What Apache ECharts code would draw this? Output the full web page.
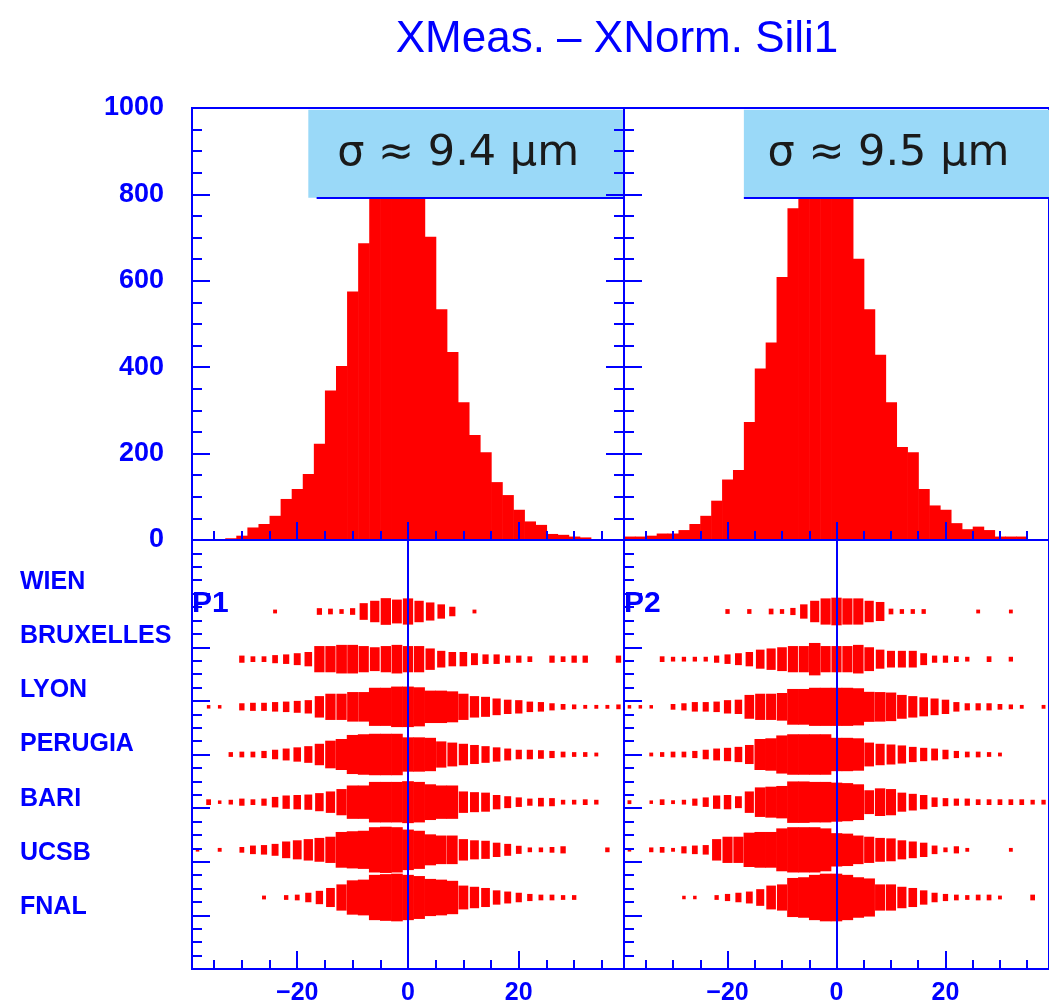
<!DOCTYPE html>
<html>
<head>
<meta charset="utf-8">
<title>XMeas. - XNorm. Sili1</title>
<script src="https://cdn.jsdelivr.net/npm/echarts@6.0.0/dist/echarts.min.js"></script>
<style>
html, body { margin: 0; padding: 0; background: #fff; }
#main { width: 1049px; height: 1006px; }
</style>
</head>
<body>
<div id="main"></div>
<script>
// bin centres (2 um bins from -39 to 39)
var binCenters = [-38, -36, -34, -32, -30, -28, -26, -24, -22, -20, -18, -16, -14, -12, -10, -8, -6, -4, -2, 0,
    2, 4, 6, 8, 10, 12, 14, 16, 18, 20, 22, 24, 26, 28, 30, 32, 34, 36, 38];

// top histograms (entries per bin)
var histP1 = [0, 0, 0, 4, 10, 29, 37, 56, 95, 118, 153, 223, 346, 403, 575, 687, 810, 870, 890, 860,
    805, 702, 534, 435, 319, 243, 203, 134, 104, 70, 43, 35, 14, 12, 8, 6, 0, 0, 0];
var histP2 = [8, 8, 10, 15, 15, 23, 37, 56, 91, 140, 162, 273, 397, 457, 609, 768, 840, 900, 910, 870,
    810, 651, 534, 429, 319, 215, 203, 118, 80, 70, 39, 25, 31, 23, 8, 8, 8, 0, 0];
var sigmaLabels = ['σ ≈ 9.4 μm', 'σ ≈ 9.5 μm'];

// institutes, bottom to top
var institutes = ['FNAL', 'UCSB', 'BARI', 'PERUGIA', 'LYON', 'BRUXELLES', 'WIEN'];

// relative box size per bin, one array per institute (P1)
var p1Wien = [0, 0, 0, 0, 0, 0, 0, 0.08, 0, 0, 0, 0.14, 0.12, 0.1, 0.14, 0.35, 0.45, 0.56, 0.5, 0.55,
    0.45, 0.38, 0.3, 0.2, 0, 0.08, 0, 0, 0, 0, 0, 0, 0, 0, 0, 0, 0, 0, 0];
var p1Bruxelles = [0, 0, 0, 0, 0.15, 0.12, 0.12, 0.17, 0.2, 0.25, 0.3, 0.55, 0.55, 0.6, 0.6, 0.55, 0.5, 0.55, 0.6, 0.55,
    0.55, 0.45, 0.35, 0.3, 0.3, 0.25, 0.2, 0.2, 0.15, 0.15, 0.12, 0, 0.15, 0.12, 0.15, 0.15, 0, 0, 0.15];
var p1Lyon = [0, 0.06, 0.05, 0, 0.15, 0.17, 0.17, 0.2, 0.22, 0.25, 0.28, 0.45, 0.55, 0.55, 0.62, 0.62, 0.8, 0.8, 0.85, 0.85,
    0.82, 0.68, 0.68, 0.65, 0.55, 0.45, 0.42, 0.35, 0.3, 0.28, 0.22, 0.2, 0.15, 0.12, 0.1, 0.08, 0.08, 0.08, 0.1];
var p1Perugia = [0, 0, 0, 0.1, 0.12, 0.12, 0.15, 0.2, 0.25, 0.3, 0.35, 0.45, 0.58, 0.65, 0.82, 0.85, 0.87, 0.87, 0.87, 0.72,
    0.72, 0.7, 0.55, 0.5, 0.45, 0.4, 0.35, 0.3, 0.25, 0.2, 0.2, 0.18, 0.15, 0.12, 0.1, 0.1, 0.08, 0, 0];
var p1Bari = [0, 0.12, 0.06, 0.1, 0.15, 0.12, 0.15, 0.22, 0.28, 0.3, 0.32, 0.38, 0.45, 0.55, 0.7, 0.7, 0.85, 0.85, 0.85, 0.88,
    0.85, 0.75, 0.7, 0.7, 0.45, 0.42, 0.4, 0.3, 0.25, 0.2, 0.15, 0.18, 0.17, 0.1, 0.1, 0.12, 0.1, 0, 0];
var p1Ucsb = [0.05, 0, 0.08, 0, 0.12, 0.18, 0.2, 0.25, 0.35, 0.4, 0.45, 0.5, 0.55, 0.75, 0.78, 0.8, 0.95, 0.97, 0.95, 0.85,
    0.8, 0.65, 0.6, 0.6, 0.45, 0.4, 0.38, 0.3, 0.25, 0.17, 0.1, 0.1, 0.12, 0.15, 0, 0, 0, 0.1, 0];
var p1Fnal = [0, 0, 0, 0, 0, 0, 0.08, 0, 0.1, 0.12, 0.2, 0.28, 0.4, 0.55, 0.72, 0.75, 0.95, 0.98, 1.0, 0.95,
    0.9, 0.78, 0.75, 0.7, 0.5, 0.45, 0.4, 0.3, 0.25, 0.2, 0.15, 0.12, 0.12, 0.1, 0.1, 0, 0, 0, 0];

// same for P2
var p2Wien = [0, 0, 0, 0, 0, 0, 0, 0, 0, 0.1, 0, 0.1, 0, 0.12, 0.1, 0.15, 0.3, 0.45, 0.55, 0.58,
    0.55, 0.55, 0.45, 0.4, 0.12, 0.1, 0.1, 0.1, 0, 0, 0, 0, 0.08, 0, 0, 0.08, 0, 0, 0];
var p2Bruxelles = [0, 0, 0, 0.12, 0.1, 0.1, 0.1, 0.1, 0.15, 0.2, 0.25, 0.3, 0.4, 0.45, 0.5, 0.55, 0.55, 0.68, 0.55, 0.55,
    0.55, 0.6, 0.5, 0.4, 0.35, 0.35, 0.35, 0.25, 0.15, 0.15, 0.12, 0.1, 0, 0.12, 0, 0.1, 0, 0, 0];
var p2Lyon = [0.06, 0.06, 0.05, 0, 0.12, 0.15, 0.2, 0.2, 0.22, 0.28, 0.3, 0.5, 0.55, 0.55, 0.58, 0.75, 0.75, 0.8, 0.8, 0.8,
    0.8, 0.78, 0.63, 0.62, 0.6, 0.5, 0.45, 0.4, 0.35, 0.3, 0.2, 0.15, 0.15, 0.15, 0.12, 0.1, 0.08, 0, 0.08];
var p2Perugia = [0, 0, 0.08, 0.1, 0.12, 0.12, 0.15, 0.2, 0.25, 0.28, 0.32, 0.4, 0.65, 0.68, 0.8, 0.85, 0.85, 0.85, 0.85, 0.7,
    0.7, 0.68, 0.5, 0.45, 0.42, 0.38, 0.32, 0.28, 0.25, 0.2, 0.15, 0.12, 0.12, 0.1, 0.08, 0, 0, 0, 0];
var p2Bari = [0.08, 0, 0.06, 0.12, 0.08, 0.1, 0.15, 0.2, 0.28, 0.3, 0.25, 0.45, 0.62, 0.65, 0.68, 0.87, 0.87, 0.85, 0.85, 0.82,
    0.8, 0.75, 0.5, 0.58, 0.55, 0.4, 0.35, 0.3, 0.2, 0.17, 0.15, 0.15, 0.12, 0.12, 0.12, 0.12, 0.12, 0.1, 0.1];
var p2Ucsb = [0.06, 0, 0.1, 0.12, 0.08, 0.15, 0.18, 0.2, 0.45, 0.55, 0.55, 0.72, 0.75, 0.75, 0.9, 0.95, 0.95, 0.95, 0.9, 0.7,
    0.68, 0.6, 0.55, 0.5, 0.48, 0.4, 0.35, 0.3, 0.18, 0.1, 0.15, 0.08, 0, 0, 0, 0.08, 0, 0, 0];
var p2Fnal = [0, 0, 0, 0, 0, 0.06, 0.06, 0, 0.1, 0.15, 0.2, 0.25, 0.35, 0.5, 0.55, 0.82, 0.85, 0.95, 1.0, 1.0,
    0.95, 0.85, 0.8, 0.55, 0.55, 0.45, 0.4, 0.3, 0.2, 0.15, 0.12, 0.1, 0.12, 0.12, 0.08, 0, 0, 0.12, 0];

var majorTicksX = [-20, 0, 20];
var minorTicksX = [-35, -30, -25, -15, -10, -5, 5, 10, 15, 25, 30, 35];

var BLUE = '#0000ff';
var RED = '#ff0000';
var BOXBLUE = '#9ad9f8';

var p1Rows = [p1Fnal, p1Ucsb, p1Bari, p1Perugia, p1Lyon, p1Bruxelles, p1Wien];
var p2Rows = [p2Fnal, p2Ucsb, p2Bari, p2Perugia, p2Lyon, p2Bruxelles, p2Wien];

var histData = function (vals) {
    return binCenters.map(function (x, i) { return [x, vals[i]]; });
};
var boxData = function (rows) {
    var out = [];
    rows.forEach(function (row, r) {
        row.forEach(function (v, i) {
            if (v > 0) out.push([binCenters[i], r + 1, v]);
        });
    });
    return out;
};

// histogram bar: full 2um bin
var histItem = function (params, api) {
    var x = api.value(0), y = api.value(1);
    if (!y) return;
    var a = api.coord([x - 1, y]);
    var b = api.coord([x + 1, 0]);
    return {
        type: 'rect',
        shape: { x: a[0], y: a[1], width: b[0] - a[0] + 0.6, height: b[1] - a[1] },
        style: { fill: RED }
    };
};
// box plot cell: size grows with content
var boxItem = function (params, api) {
    var x = api.value(0), r = api.value(1), v = api.value(2);
    var c = api.coord([x, r]);
    var unit = api.size([2, 1]);
    var f = Math.min(1, 1.25 * Math.sqrt(v));
    var w = f >= 1 ? unit[0] + 0.6 : Math.max(3.5, unit[0] * f);
    var h = Math.max(3.5, unit[1] * v);
    return {
        type: 'rect',
        shape: { x: c[0] - w / 2, y: c[1] - h / 2, width: w, height: h },
        style: { fill: RED }
    };
};

var tickStyle = { color: BLUE, width: 2 };
var lineStyle = { color: BLUE, width: 2 };
var minusFmt = function (v) { return v < 0 ? '\u2212' + (-v) : String(v); };

var majorX = function (grid, labels) {
    return {
        type: 'value', gridIndex: grid, min: -39, max: 39, position: 'bottom', z: 20,
        axisLine: { show: true, onZero: false, lineStyle: lineStyle },
        splitLine: { show: false },
        axisTick: { inside: true, length: 18, lineStyle: tickStyle, customValues: majorTicksX },
        axisLabel: {
            show: labels, customValues: majorTicksX, formatter: minusFmt, margin: 12,
            color: BLUE, fontWeight: 'bold', fontSize: 25, fontFamily: 'Liberation Sans'
        }
    };
};
var minorX = function (grid) {
    return {
        type: 'value', gridIndex: grid, min: -39, max: 39, position: 'bottom', z: 20,
        axisLine: { show: false, onZero: false },
        splitLine: { show: false },
        axisTick: { inside: true, length: 9, lineStyle: tickStyle, customValues: minorTicksX },
        axisLabel: { show: false }
    };
};
var histY = function (grid, pos, labels) {
    return {
        type: 'value', gridIndex: grid, min: 0, max: 1000, interval: 200, position: pos, z: 20,
        axisLine: { show: true, onZero: false, lineStyle: lineStyle },
        splitLine: { show: false },
        axisTick: { inside: true, length: 18, lineStyle: tickStyle },
        minorTick: { show: true, splitNumber: 4, length: 10, lineStyle: tickStyle },
        axisLabel: {
            show: labels, margin: 28, formatter: function (v) { return String(v); },
            color: BLUE, fontWeight: 'bold', fontSize: 27, fontFamily: 'Liberation Sans'
        }
    };
};
var lowerY = function (grid) {
    return {
        type: 'value', gridIndex: grid, min: 0, max: 8, interval: 1, position: 'left', z: 20,
        axisLine: { show: true, onZero: false, lineStyle: lineStyle },
        splitLine: { show: false },
        axisTick: { inside: true, length: 18, lineStyle: tickStyle },
        minorTick: { show: true, splitNumber: 4, length: 10, lineStyle: tickStyle },
        axisLabel: { show: false }
    };
};
var rowY = function (grid) {
    return { type: 'value', gridIndex: grid, min: -0.5, max: 8.5, show: false };
};

var sigmaBox = function (x0, label) {
    return {
        silent: true, z: 10,
        itemStyle: { color: BOXBLUE, borderWidth: 0 },
        label: {
            show: true, position: 'inside', offset: [-8, 0],
            color: '#1a1a1a', fontSize: 43, fontFamily: 'DejaVu Sans'
        },
        data: [[{ name: label, coord: [x0, 792] }, { coord: [39, 996] }]]
    };
};
var sigmaEdge = function (x0) {
    return {
        silent: true, z: 11, symbol: ['none', 'none'],
        lineStyle: { color: BLUE, width: 2, type: 'solid' },
        label: { show: false },
        data: [[{ coord: [x0, 792] }, { coord: [39, 792] }]]
    };
};
var zeroLine = {
    silent: true, z: 12, symbol: ['none', 'none'],
    lineStyle: { color: BLUE, width: 2, type: 'solid' },
    label: { show: false },
    data: [{ xAxis: 0 }]
};

var option = {
    animation: false,
    backgroundColor: '#fff',
    grid: [
        { left: 192, top: 108, width: 432, height: 432, show: true, borderColor: BLUE, borderWidth: 2 },
        { left: 624, top: 108, width: 432, height: 432, show: true, borderColor: BLUE, borderWidth: 2 },
        { left: 192, top: 540, width: 432, height: 430, show: true, borderColor: BLUE, borderWidth: 2 },
        { left: 624, top: 540, width: 432, height: 430, show: true, borderColor: BLUE, borderWidth: 2 },
        { left: 20, top: 555, width: 1, height: 379 }
    ],
    xAxis: [
        majorX(0, false), minorX(0),
        majorX(1, false), minorX(1),
        majorX(2, true), minorX(2),
        majorX(3, true), minorX(3),
        { type: 'value', gridIndex: 4, min: 0, max: 1, show: false }
    ],
    yAxis: [
        histY(0, 'left', true), histY(0, 'right', false),
        histY(1, 'left', false),
        lowerY(2), rowY(2),
        lowerY(3), rowY(3),
        {
            type: 'category', gridIndex: 4, data: institutes,
            axisLine: { show: false }, axisTick: { show: false },
            axisLabel: {
                inside: true, margin: 0, interval: 0, align: 'left',
                color: BLUE, fontWeight: 'bold', fontSize: 25, fontFamily: 'Liberation Sans'
            }
        }
    ],
    graphic: [
        {
            type: 'text', x: 617, y: 40, z: 30,
            style: { text: 'XMeas. \u2013 XNorm. Sili1', fill: BLUE, font: '44px "Liberation Sans"', align: 'center', verticalAlign: 'middle' }
        },
        {
            type: 'text', x: 192, y: 604, z: 30,
            style: { text: 'P1', fill: BLUE, font: 'bold 30px "Liberation Sans"', align: 'left', verticalAlign: 'middle' }
        },
        {
            type: 'text', x: 624, y: 604, z: 30,
            style: { text: 'P2', fill: BLUE, font: 'bold 30px "Liberation Sans"', align: 'left', verticalAlign: 'middle' }
        }
    ],
    series: [
        {
            type: 'custom', name: 'P1', xAxisIndex: 0, yAxisIndex: 0, renderItem: histItem,
            data: histData(histP1), markArea: sigmaBox(-18, sigmaLabels[0]), markLine: sigmaEdge(-16.5)
        },
        {
            type: 'custom', name: 'P2', xAxisIndex: 2, yAxisIndex: 2, renderItem: histItem,
            data: histData(histP2), markArea: sigmaBox(-17, sigmaLabels[1]), markLine: sigmaEdge(-17)
        },
        {
            type: 'custom', name: 'P1 sites', xAxisIndex: 4, yAxisIndex: 4, renderItem: boxItem, clip: true,
            data: boxData(p1Rows), markLine: zeroLine
        },
        {
            type: 'custom', name: 'P2 sites', xAxisIndex: 6, yAxisIndex: 6, renderItem: boxItem, clip: true,
            data: boxData(p2Rows), markLine: zeroLine
        }
    ]
};

var myChart = echarts.init(document.getElementById('main'));
myChart.setOption(option);
</script>
</body>
</html>
